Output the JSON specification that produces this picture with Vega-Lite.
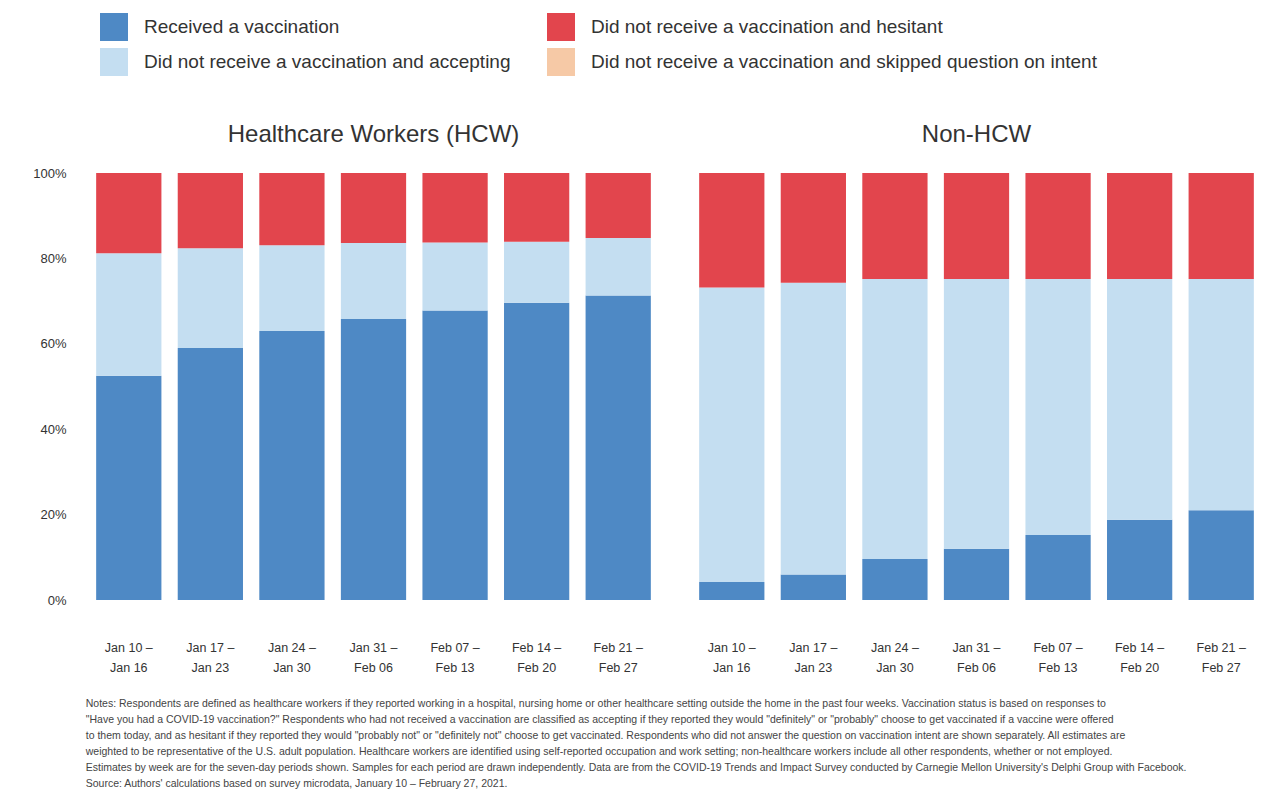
{
  "$schema": "https://vega.github.io/schema/vega-lite/v6.json",
  "background": "white",
  "padding": {"left": 32, "top": 13, "right": 5, "bottom": 5},
  "title": {
    "text": [
      "Notes: Respondents are defined as healthcare workers if they reported working in a hospital, nursing home or other healthcare setting outside the home in the past four weeks. Vaccination status is based on responses to",
      "\"Have you had a COVID-19 vaccination?\" Respondents who had not received a vaccination are classified as accepting if they reported they would \"definitely\" or \"probably\" choose to get vaccinated if a vaccine were offered",
      "to them today, and as hesitant if they reported they would \"probably not\" or \"definitely not\" choose to get vaccinated. Respondents who did not answer the question on vaccination intent are shown separately. All estimates are",
      "weighted to be representative of the U.S. adult population. Healthcare workers are identified using self-reported occupation and work setting; non-healthcare workers include all other respondents, whether or not employed.",
      "Estimates by week are for the seven-day periods shown. Samples for each period are drawn independently. Data are from the COVID-19 Trends and Impact Survey conducted by Carnegie Mellon University's Delphi Group with Facebook.",
      "Source: Authors' calculations based on survey microdata, January 10 – February 27, 2021."
    ],
    "orient": "bottom",
    "anchor": "start",
    "fontSize": 10.5,
    "fontWeight": "normal",
    "color": "#444",
    "font": "Liberation Sans",
    "lineHeight": 16,
    "offset": 25,
    "dx": 53
  },
  "data": {
    "values": [
      {"group": "Healthcare Workers (HCW)", "week": "Jan 10 – Jan 16", "cat": "Received a vaccination", "k": 1, "pct": 52.5},
      {"group": "Healthcare Workers (HCW)", "week": "Jan 17 – Jan 23", "cat": "Received a vaccination", "k": 1, "pct": 59.0},
      {"group": "Healthcare Workers (HCW)", "week": "Jan 24 – Jan 30", "cat": "Received a vaccination", "k": 1, "pct": 63.0},
      {"group": "Healthcare Workers (HCW)", "week": "Jan 31 – Feb 06", "cat": "Received a vaccination", "k": 1, "pct": 65.8},
      {"group": "Healthcare Workers (HCW)", "week": "Feb 07 – Feb 13", "cat": "Received a vaccination", "k": 1, "pct": 67.8},
      {"group": "Healthcare Workers (HCW)", "week": "Feb 14 – Feb 20", "cat": "Received a vaccination", "k": 1, "pct": 69.6},
      {"group": "Healthcare Workers (HCW)", "week": "Feb 21 – Feb 27", "cat": "Received a vaccination", "k": 1, "pct": 71.3},
      {"group": "Healthcare Workers (HCW)", "week": "Jan 10 – Jan 16", "cat": "Did not receive a vaccination and accepting", "k": 2, "pct": 28.7},
      {"group": "Healthcare Workers (HCW)", "week": "Jan 17 – Jan 23", "cat": "Did not receive a vaccination and accepting", "k": 2, "pct": 23.4},
      {"group": "Healthcare Workers (HCW)", "week": "Jan 24 – Jan 30", "cat": "Did not receive a vaccination and accepting", "k": 2, "pct": 20.1},
      {"group": "Healthcare Workers (HCW)", "week": "Jan 31 – Feb 06", "cat": "Did not receive a vaccination and accepting", "k": 2, "pct": 17.8},
      {"group": "Healthcare Workers (HCW)", "week": "Feb 07 – Feb 13", "cat": "Did not receive a vaccination and accepting", "k": 2, "pct": 15.9},
      {"group": "Healthcare Workers (HCW)", "week": "Feb 14 – Feb 20", "cat": "Did not receive a vaccination and accepting", "k": 2, "pct": 14.3},
      {"group": "Healthcare Workers (HCW)", "week": "Feb 21 – Feb 27", "cat": "Did not receive a vaccination and accepting", "k": 2, "pct": 13.5},
      {"group": "Healthcare Workers (HCW)", "week": "Jan 10 – Jan 16", "cat": "Did not receive a vaccination and hesitant", "k": 3, "pct": 18.8},
      {"group": "Healthcare Workers (HCW)", "week": "Jan 17 – Jan 23", "cat": "Did not receive a vaccination and hesitant", "k": 3, "pct": 17.6},
      {"group": "Healthcare Workers (HCW)", "week": "Jan 24 – Jan 30", "cat": "Did not receive a vaccination and hesitant", "k": 3, "pct": 16.9},
      {"group": "Healthcare Workers (HCW)", "week": "Jan 31 – Feb 06", "cat": "Did not receive a vaccination and hesitant", "k": 3, "pct": 16.4},
      {"group": "Healthcare Workers (HCW)", "week": "Feb 07 – Feb 13", "cat": "Did not receive a vaccination and hesitant", "k": 3, "pct": 16.3},
      {"group": "Healthcare Workers (HCW)", "week": "Feb 14 – Feb 20", "cat": "Did not receive a vaccination and hesitant", "k": 3, "pct": 16.1},
      {"group": "Healthcare Workers (HCW)", "week": "Feb 21 – Feb 27", "cat": "Did not receive a vaccination and hesitant", "k": 3, "pct": 15.2},
      {"group": "Non-HCW", "week": "Jan 10 – Jan 16", "cat": "Received a vaccination", "k": 1, "pct": 4.2},
      {"group": "Non-HCW", "week": "Jan 17 – Jan 23", "cat": "Received a vaccination", "k": 1, "pct": 6.0},
      {"group": "Non-HCW", "week": "Jan 24 – Jan 30", "cat": "Received a vaccination", "k": 1, "pct": 9.6},
      {"group": "Non-HCW", "week": "Jan 31 – Feb 06", "cat": "Received a vaccination", "k": 1, "pct": 12.0},
      {"group": "Non-HCW", "week": "Feb 07 – Feb 13", "cat": "Received a vaccination", "k": 1, "pct": 15.2},
      {"group": "Non-HCW", "week": "Feb 14 – Feb 20", "cat": "Received a vaccination", "k": 1, "pct": 18.8},
      {"group": "Non-HCW", "week": "Feb 21 – Feb 27", "cat": "Received a vaccination", "k": 1, "pct": 21.0},
      {"group": "Non-HCW", "week": "Jan 10 – Jan 16", "cat": "Did not receive a vaccination and accepting", "k": 2, "pct": 69.0},
      {"group": "Non-HCW", "week": "Jan 17 – Jan 23", "cat": "Did not receive a vaccination and accepting", "k": 2, "pct": 68.3},
      {"group": "Non-HCW", "week": "Jan 24 – Jan 30", "cat": "Did not receive a vaccination and accepting", "k": 2, "pct": 65.6},
      {"group": "Non-HCW", "week": "Jan 31 – Feb 06", "cat": "Did not receive a vaccination and accepting", "k": 2, "pct": 63.2},
      {"group": "Non-HCW", "week": "Feb 07 – Feb 13", "cat": "Did not receive a vaccination and accepting", "k": 2, "pct": 60.0},
      {"group": "Non-HCW", "week": "Feb 14 – Feb 20", "cat": "Did not receive a vaccination and accepting", "k": 2, "pct": 56.4},
      {"group": "Non-HCW", "week": "Feb 21 – Feb 27", "cat": "Did not receive a vaccination and accepting", "k": 2, "pct": 54.2},
      {"group": "Non-HCW", "week": "Jan 10 – Jan 16", "cat": "Did not receive a vaccination and hesitant", "k": 3, "pct": 26.8},
      {"group": "Non-HCW", "week": "Jan 17 – Jan 23", "cat": "Did not receive a vaccination and hesitant", "k": 3, "pct": 25.7},
      {"group": "Non-HCW", "week": "Jan 24 – Jan 30", "cat": "Did not receive a vaccination and hesitant", "k": 3, "pct": 24.8},
      {"group": "Non-HCW", "week": "Jan 31 – Feb 06", "cat": "Did not receive a vaccination and hesitant", "k": 3, "pct": 24.8},
      {"group": "Non-HCW", "week": "Feb 07 – Feb 13", "cat": "Did not receive a vaccination and hesitant", "k": 3, "pct": 24.8},
      {"group": "Non-HCW", "week": "Feb 14 – Feb 20", "cat": "Did not receive a vaccination and hesitant", "k": 3, "pct": 24.8},
      {"group": "Non-HCW", "week": "Feb 21 – Feb 27", "cat": "Did not receive a vaccination and hesitant", "k": 3, "pct": 24.8}
    ]
  },
  "facet": {
    "column": {
      "field": "group",
      "type": "nominal",
      "sort": ["Healthcare Workers (HCW)", "Non-HCW"],
      "title": null,
      "header": {"labelFontSize": 24, "labelColor": "#333", "labelFont": "Liberation Sans", "labelPadding": 26}
    }
  },
  "spacing": 32,
  "spec": {
    "width": 571,
    "height": 427,
    "mark": {"type": "bar"},
    "encoding": {
      "x": {
        "field": "week",
        "type": "ordinal",
        "sort": null,
        "scale": {"paddingInner": 0.2, "paddingOuter": 0.1},
        "axis": {
          "title": null,
          "domain": false,
          "ticks": false,
          "labelAngle": 0,
          "labelFontSize": 12.5,
          "labelColor": "#333",
          "labelFont": "Liberation Sans",
          "labelPadding": 41,
          "labelLineHeight": 20,
          "labelExpr": "[split(datum.value, ' – ')[0] + ' –', split(datum.value, ' – ')[1]]"
        }
      },
      "y": {
        "field": "pct",
        "type": "quantitative",
        "stack": "zero",
        "scale": {"domain": [0, 100]},
        "axis": {
          "title": null,
          "values": [0, 20, 40, 60, 80, 100],
          "labelExpr": "datum.value + '%'",
          "grid": false,
          "domain": false,
          "ticks": false,
          "labelFontSize": 13,
          "labelColor": "#333",
          "labelFont": "Liberation Sans",
          "labelPadding": 22
        }
      },
      "color": {
        "field": "cat",
        "type": "nominal",
        "scale": {
          "domain": [
            "Received a vaccination",
            "Did not receive a vaccination and accepting",
            "Did not receive a vaccination and hesitant",
            "Did not receive a vaccination and skipped question on intent"
          ],
          "range": ["#4e89c5", "#c4def1", "#e2454d", "#f6c9a6"]
        },
        "legend": {
          "title": null,
          "orient": "none",
          "legendX": 12,
          "legendY": -160,
          "columns": 2,
          "symbolType": "square",
          "symbolSize": 784,
          "symbolStrokeWidth": 0,
          "labelFontSize": 19,
          "labelColor": "#333",
          "labelFont": "Liberation Sans",
          "labelLimit": 800,
          "labelOffset": 16,
          "rowPadding": 7,
          "columnPadding": 36
        }
      },
      "order": {"field": "k", "type": "quantitative"}
    }
  },
  "config": {
    "view": {"stroke": null}
  }
}
